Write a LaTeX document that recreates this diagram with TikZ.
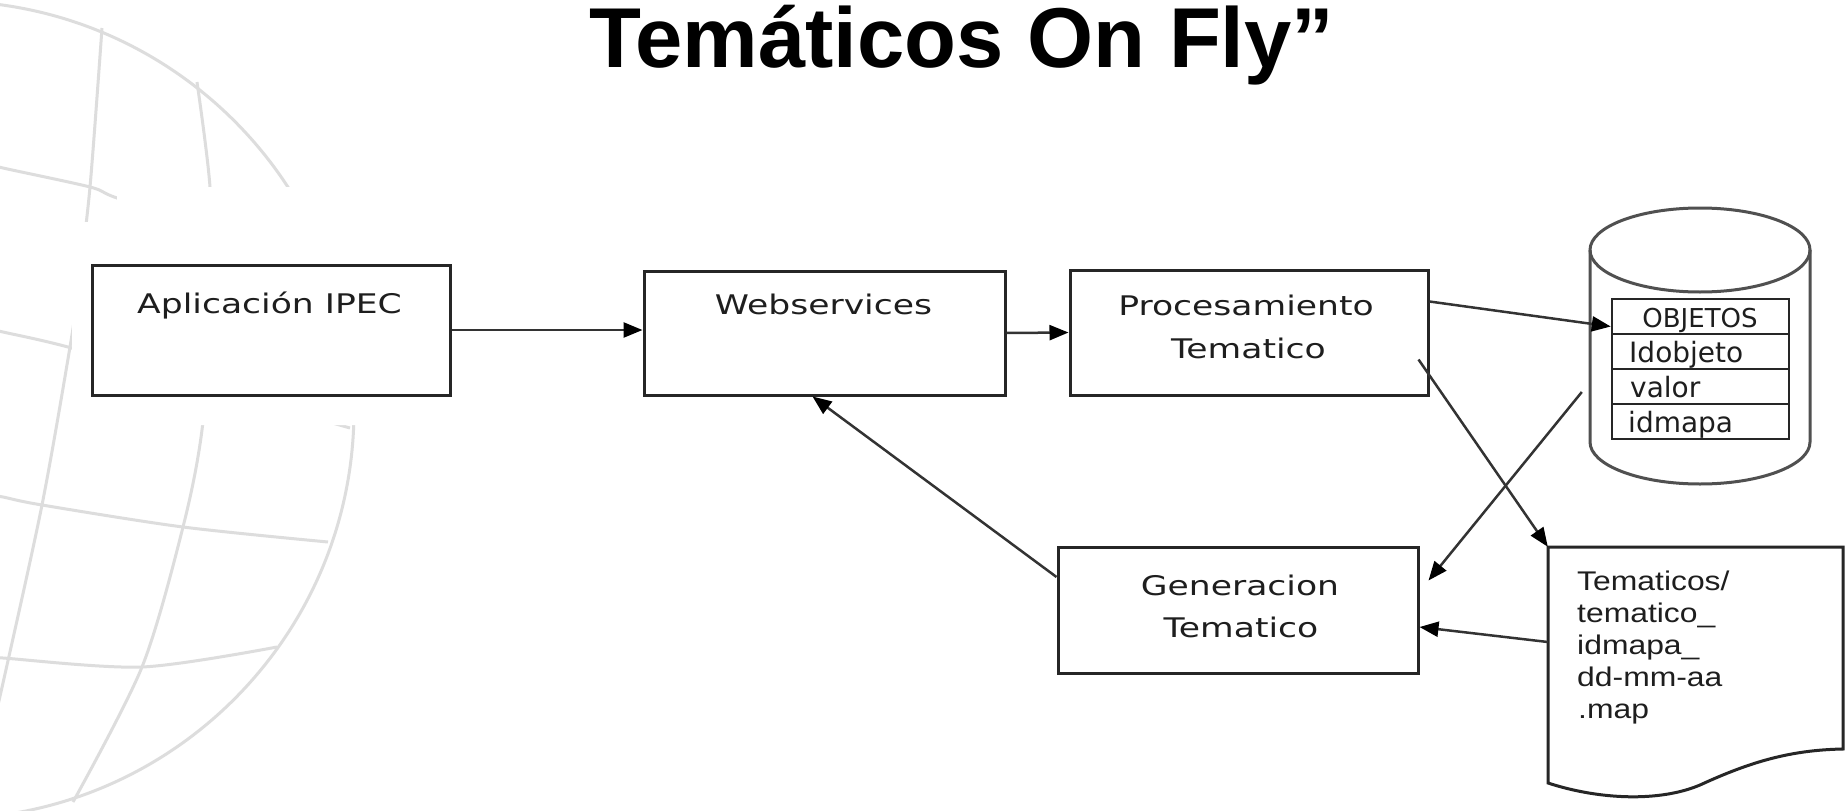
\documentclass[tikz,border=0pt]{standalone}
\usepackage{fontspec}
\usetikzlibrary{arrows.meta,calc}
\newfontfamily\diafont[FakeStretch=1.28]{DejaVu Sans}
\newfontfamily\docfont[FakeStretch=1.18]{Liberation Sans}
\newfontfamily\tabfont{DejaVu Sans}
\newfontfamily\titfont{Liberation Sans}
\definecolor{globec}{HTML}{DDDDDD}
\definecolor{boxc}{HTML}{262626}
\definecolor{linec}{HTML}{333333}
\definecolor{dbc}{HTML}{505050}
\definecolor{txtc}{HTML}{1E1E1E}
\begin{document}
\begin{tikzpicture}[x=1pt,y=-1pt,
  box/.style={draw=boxc,line width=3pt,fill=white,inner sep=0pt,rectangle},
  arr/.style={draw=linec,line width=2.5pt,-{Triangle[length=19pt,width=15pt,color=black]}},
  lbl/.style={anchor=base,inner sep=0pt,text=txtc,font=\diafont\fontsize{27}{27}\selectfont},
  doct/.style={anchor=base west,inner sep=0pt,text=txtc,font=\docfont\fontsize{27}{27}\selectfont},
  tabt/.style={anchor=base west,inner sep=0pt,text=txtc,font=\tabfont\fontsize{28}{28}\selectfont},
  globe/.style={draw=globec,line width=3pt},
  row/.style={draw=boxc,line width=2.5pt,minimum width=177pt,minimum height=35pt,inner sep=0pt,rectangle},
  ghost/.style={inner sep=0pt,rectangle},
  dbline/.style={draw=dbc,line width=3pt}
]
\useasboundingbox (0,0) rectangle (1845,811);
\fill[white] (0,0) rectangle (1845,811);
% background globe
\begin{scope}
\clip (0,0) rectangle (1845,811);
\draw[globe] (-55,410) circle[radius=409pt];
\draw[globe] plot[smooth] coordinates {(102,28) (90,187) (78,290) (70,347) (42,505) (3,683) (-15,760)};
\draw[globe] plot[smooth] coordinates {(197,82) (210,187) (212,300) (202,430) (183,527) (142,667) (73,802)};
\draw[globe] plot[smooth] coordinates {(-10,164) (3,168) (90,187) (117,198) (220,232) (322,266)};
\draw[globe] plot[smooth] coordinates {(-10,329) (3,332) (68,347) (200,385) (350,428)};
\draw[globe] plot[smooth] coordinates {(-10,495) (3,497) (42,505) (183,527) (328,542)};
\draw[globe] plot[smooth] coordinates {(-10,657) (3,658) (142,667) (277,647)};
\end{scope}
\fill[white] (117,187) -- (430,187) -- (430,425) -- (72,425) -- (72,222) -- (117,222) -- cycle;
% title
\node[anchor=base,inner sep=0pt,font=\titfont\bfseries\fontsize{85}{85}\selectfont] (title) at (962,67) {Temáticos On Fly”};
% boxes
\node[box,minimum width=358pt,minimum height=130pt] (app) at (271,330) {};
\node[box,minimum width=361pt,minimum height=124pt] (ws) at (824.5,333) {};
\node[box,minimum width=358pt,minimum height=125pt] (proc) at (1249,332.5) {};
\node[box,minimum width=360pt,minimum height=126pt] (gen) at (1238,610) {};
\node[lbl] (appT) at (269.5,313) {Aplicación IPEC};
\node[lbl] (wsT) at (823.5,314) {Webservices};
\node[lbl] (procT1) at (1246,315) {Procesamiento};
\node[lbl] (procT2) at (1248.5,358) {Tematico};
\node[lbl] (genT1) at (1240,595) {Generacion};
\node[lbl] (genT2) at (1241,637) {Tematico};
% database cylinder
\draw[dbline] (1590,250) -- (1590,442) arc[start angle=180,end angle=360,x radius=110pt,y radius=42pt] -- (1810,250);
\draw[dbline] (1700,250) ellipse[x radius=110pt,y radius=42pt];
\node[ghost,minimum width=220pt,minimum height=276pt] (db) at (1700,346) {};
\node[row] (obj1) at (1700.5,316.5) {};
\node[row] (obj2) at (1700.5,351.5) {};
\node[row] (obj3) at (1700.5,386.5) {};
\node[row] (obj4) at (1700.5,421.5) {};
\node[anchor=base,inner sep=0pt,text=txtc,font=\tabfont\fontsize{26}{26}\selectfont] (objT) at (1700,327) {OBJETOS};
\node[tabt] (idT) at (1629,362) {Idobjeto};
\node[tabt] (valT) at (1630,397) {valor};
\node[tabt] (mapT) at (1628,432) {idmapa};
% document
\draw[draw=boxc,line width=3pt,fill=white] (1548,547) -- (1843,547) -- (1843,749) .. controls (1790,750) and (1750,762) .. (1700,785) .. controls (1660,802) and (1600,800) .. (1548,783) -- cycle;
\node[ghost,minimum width=295pt,minimum height=236pt] (doc) at (1695.5,665) {};
\node[doct] (d1) at (1577,590) {Tematicos/};
\node[doct] (d2) at (1577,622) {tematico\_};
\node[doct] (d3) at (1577,654) {idmapa\_};
\node[doct] (d4) at (1577,686) {dd-mm-aa};
\node[doct] (d5) at (1578,718) {.map};
% connectors
\draw[arr] (app.east) -- (app.east -| ws.west);
\draw[arr] (ws.east) -- (proc.west);
\draw[arr] ([yshift=31pt]proc.east) -- ([yshift=-10pt]obj1.west);
\draw[arr] ([shift={(-11pt,37pt)}]proc.south east) -- (doc.north west);
\draw[arr] ([shift={(-8pt,-46pt)}]db.west) -- ([shift={(9pt,-35pt)}]gen.north east);
\draw[arr] ([yshift=23pt]doc.west) -- ([yshift=-17pt]gen.east);
\draw[arr] ([yshift=33pt]gen.west) -- ([xshift=-12pt]ws.south);
\end{tikzpicture}
\end{document}
